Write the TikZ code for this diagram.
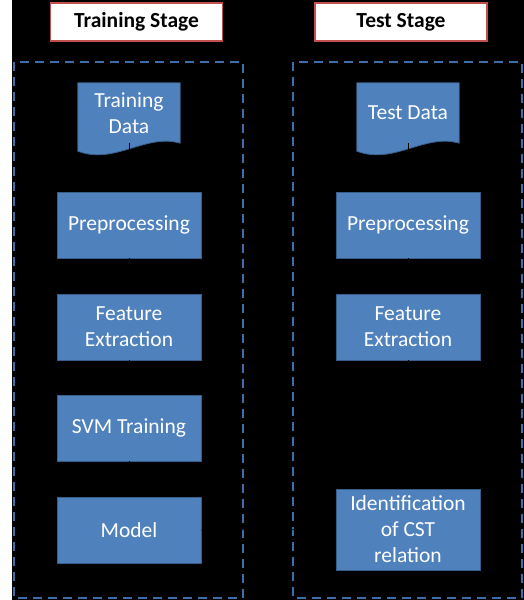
\documentclass[tikz,border=0pt]{standalone}
\usepackage{fontspec}
\setmainfont{Carlito}
\usetikzlibrary{positioning}
\usetikzlibrary{calc}
\usetikzlibrary{arrows.meta}
\usetikzlibrary{backgrounds}
\definecolor{boxblue}{HTML}{4F81BD}
\definecolor{boxedge}{HTML}{385D8A}
\definecolor{stagered}{HTML}{C0504D}
\definecolor{framblue}{HTML}{3E6FA8}
\tikzset{stagebox/.style = {draw=stagered, line width=1.5bp, fill=white,
                            minimum width=172bp, minimum height=38bp, inner sep=0,
                            font=\fontsize{21.5bp}{24bp}\selectfont\bfseries}}
\tikzset{procbox/.style = {draw=boxedge, line width=0.8bp, fill=boxblue, text=white,
                           minimum width=144bp, minimum height=66bp, inner sep=0,
                           align=center, font=\fontsize{21.5bp}{26bp}\selectfont}}
\tikzset{docbox/.style = {text=white, minimum width=102bp, minimum height=60bp,
                          inner sep=0, align=center, font=\fontsize{21.5bp}{26bp}\selectfont}}
\tikzset{docshape/.style = {draw=boxedge, line width=0.8bp, fill=boxblue}}
\tikzset{stagearea/.style = {draw=framblue, line width=1.8bp, dash pattern=on 9bp off 6bp}}
\tikzset{flow/.style = {black, line width=0.8bp, -{Stealth[length=5bp]}}}

\begin{document}
\begin{tikzpicture}[x=1bp, y=-1bp]
      \useasboundingbox (0,0) rectangle (524,600);
      % dashed stage frames
      \draw[stagearea] (14,62) rectangle (243,598);
      \draw[stagearea] (293,62) rectangle (522,598);
      \node[stagebox] (trstage) at (136.5,22) {Training Stage};
      \node[stagebox] (testage) at (401,22) {Test Stage};
      % training side
      \node[docbox] (trdata) at (129,113) {Training\\Data};
      \node[procbox] (trpre) at (129,225) {Preprocessing};
      \node[procbox] (trfeat) at (129,327) {Feature\\Extraction};
      \node[procbox] (trsvm) at (129,428) {SVM Training};
      \node[procbox] (trmodel) at (129,530) {Model};
      % test side
      \node[docbox] (tedata) at (408,113) {Test Data};
      \node[procbox] (tepre) at (408,225) {Preprocessing};
      \node[procbox] (tefeat) at (408,327) {Feature\\Extraction};
      \node[procbox, minimum height=81bp] (teident) at (408,529.5)
            {Identification\\of CST\\relation};
      % connectors
      \draw[flow] (trdata) -- (trpre);
      \draw[flow] (trpre) -- (trfeat);
      \draw[flow] (trfeat) -- (trsvm);
      \draw[flow] (trsvm) -- (trmodel);
      \draw[flow] (tedata) -- (tepre);
      \draw[flow] (tepre) -- (tefeat);
      \draw[flow] (tefeat) -- (teident);
      \draw[flow] (trmodel) -- (teident);
      \begin{pgfonlayer}{background}
      \fill[white] (0,0) rectangle (12,600);
      \fill[black] (12,0) rectangle (524,600);
      \fill[docshape] (trdata.north west) -- (trdata.north east) -- (trdata.south east)
            .. controls +(-35,-10) and +(37,14) .. ($(trdata.south west)+(0,8)$) -- cycle;
      \fill[docshape] (tedata.north west) -- (tedata.north east) -- (tedata.south east)
            .. controls +(-35,-10) and +(37,14) .. ($(tedata.south west)+(0,8)$) -- cycle;
      \end{pgfonlayer}
\end{tikzpicture}
\end{document}
